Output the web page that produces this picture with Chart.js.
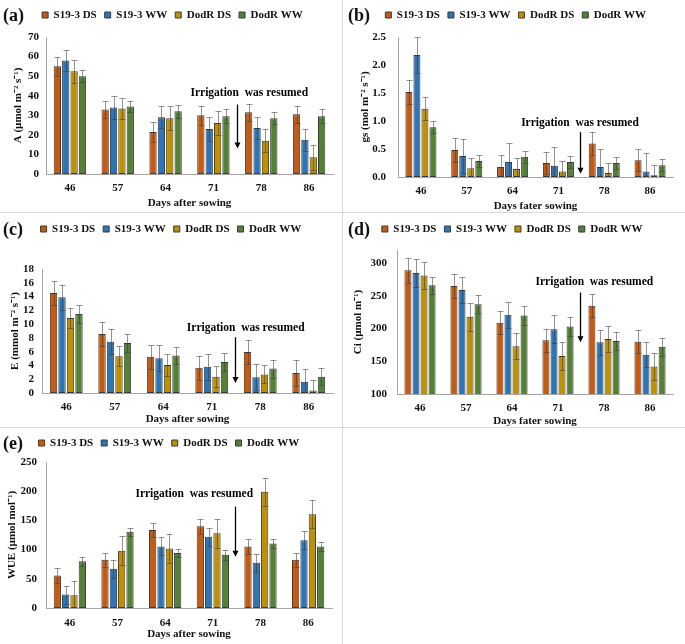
<!DOCTYPE html>
<html>
<head>
<meta charset="utf-8">
<script src="https://cdn.jsdelivr.net/npm/chart.js@4.4.1/dist/chart.umd.min.js"></script>
<style>
  html, body { margin: 0; padding: 0; background: #fff; }
  #page { position: relative; width: 685px; height: 644px; overflow: hidden; background: #fff; }
  .panel { position: absolute; }
  .panel canvas { display: block; }
  .tag { position: absolute; font: bold 18px 'Liberation Serif', 'Times New Roman', serif; line-height: 20px; color: #111; }
  .hline, .vline { position: absolute; background: #d9d9d9; }
</style>
</head>
<body>
<div id="page">
  <div class="hline" style="left:0;top:212px;width:685px;height:1px"></div>
  <div class="hline" style="left:0;top:427px;width:685px;height:1px"></div>
  <div class="vline" style="left:342px;top:0;width:1px;height:644px"></div>

  <div class="panel" style="left:0;top:0"><canvas id="chartA" width="342" height="212"></canvas></div>
  <div class="panel" style="left:343px;top:0"><canvas id="chartB" width="342" height="212"></canvas></div>
  <div class="panel" style="left:0;top:213px"><canvas id="chartC" width="342" height="214"></canvas></div>
  <div class="panel" style="left:343px;top:213px"><canvas id="chartD" width="342" height="214"></canvas></div>
  <div class="panel" style="left:0;top:428px"><canvas id="chartE" width="342" height="216"></canvas></div>

  <div class="tag" style="left:3px;top:5px">(a)</div>
  <div class="tag" style="left:348px;top:5px">(b)</div>
  <div class="tag" style="left:3px;top:219px">(c)</div>
  <div class="tag" style="left:348px;top:219px">(d)</div>
  <div class="tag" style="left:3px;top:433px">(e)</div>
</div>
<script>
const days = ['46', '57', '64', '71', '78', '86'];
const seriesNames = ['S19-3 DS', 'S19-3 WW', 'DodR DS', 'DodR WW'];
const seriesColors = ['#C55A11', '#2E75B6', '#BF9000', '#548235'];

// (a) A, µmol m-2 s-1
const A_S19DS = [55, 33, 21.5, 30, 31.5, 30.5];
const A_S19WW = [58, 34, 29, 23, 23.5, 17.5];
const A_DodDS = [52.5, 33.5, 28.5, 26, 17, 8.5];
const A_DodWW = [50, 34.5, 32, 29.5, 28.5, 29.5];
const A_S19DS_err = [5, 4.5, 5, 5, 4.5, 4.5];
const A_S19WW_err = [5.5, 6, 5.5, 6, 5.5, 5.5];
const A_DodDS_err = [6, 5.5, 6, 6, 6, 6.5];
const A_DodWW_err = [3, 3, 3.5, 3.5, 3, 3.5];

// (b) gs, mol m-2 s-1
const GS_S19DS = [1.52, 0.48, 0.18, 0.25, 0.6, 0.3];
const GS_S19WW = [2.18, 0.375, 0.27, 0.2, 0.18, 0.1];
const GS_DodDS = [1.22, 0.155, 0.145, 0.1, 0.07, 0.03];
const GS_DodWW = [0.89, 0.285, 0.36, 0.27, 0.25, 0.21];
const GS_S19DS_err = [0.22, 0.22, 0.22, 0.2, 0.2, 0.2];
const GS_S19WW_err = [0.32, 0.31, 0.33, 0.33, 0.32, 0.33];
const GS_DodDS_err = [0.2, 0.19, 0.2, 0.19, 0.18, 0.18];
const GS_DodWW_err = [0.11, 0.11, 0.11, 0.11, 0.11, 0.11];

// (c) E, mmol m-2 s-1
const E_S19DS = [14.5, 8.55, 5.25, 3.65, 5.95, 2.9];
const E_S19WW = [13.9, 7.45, 5.05, 3.8, 2.3, 1.65];
const E_DodDS = [10.9, 5.35, 4.05, 2.35, 2.7, 0.35];
const E_DodWW = [11.45, 7.25, 5.45, 4.5, 3.55, 2.35];
const E_S19DS_err = [1.75, 1.7, 1.7, 1.7, 1.7, 1.85];
const E_S19WW_err = [1.85, 1.8, 1.9, 1.9, 1.85, 1.8];
const E_DodDS_err = [1.4, 1.5, 1.55, 1.5, 1.3, 1.5];
const E_DodWW_err = [1.3, 1.35, 1.3, 1.3, 1.3, 1.25];

// (d) Ci, µmol m-1
const CI_S19DS = [289, 265, 209, 182, 235, 180];
const CI_S19WW = [285, 259, 221, 199, 179, 160];
const CI_DodDS = [281, 218, 173, 158, 184, 142];
const CI_DodWW = [266, 237, 220, 203, 181, 172];
const CI_S19DS_err = [19, 18, 18, 18, 18, 18];
const CI_S19WW_err = [21, 20, 20, 21, 19, 19];
const CI_DodDS_err = [20, 21, 20, 21, 20, 21];
const CI_DodWW_err = [13.5, 13.5, 14.5, 14, 14, 14];

// (e) WUE, µmol mol-1
const WUE_S19DS = [55.5, 82.5, 133.5, 140, 105.5, 82.5];
const WUE_S19WW = [23, 67, 105.5, 122, 77.5, 116];
const WUE_DodDS = [22, 98, 102, 128, 199, 160.5];
const WUE_DodWW = [80, 130.5, 94, 91, 110.5, 105.5];
const WUE_S19DS_err = [13, 12.5, 12.5, 13, 13, 12.5];
const WUE_S19WW_err = [15.5, 15.5, 15.5, 15.5, 15.5, 15.5];
const WUE_DodDS_err = [25, 25, 25, 25, 24, 24];
const WUE_DodWW_err = [7.5, 7, 7.5, 8, 7.5, 7.5];

const noteText = 'Irrigation  was resumed';
const FONT = "'Liberation Serif', 'Times New Roman', serif";

// error bars, drawn from each dataset's errors through the y scale
const errorBars = {
  id: 'errorBars',
  afterDatasetsDraw(chart) {
    const ctx = chart.ctx;
    const y = chart.scales.y;
    const area = chart.chartArea;
    ctx.save();
    ctx.beginPath();
    ctx.rect(area.left, area.top - 1, area.right - area.left, area.bottom - area.top + 1);
    ctx.clip();
    ctx.strokeStyle = 'rgba(60, 60, 60, 0.55)';
    ctx.lineWidth = 1;
    chart.data.datasets.forEach((ds, i) => {
      chart.getDatasetMeta(i).data.forEach((bar, j) => {
        const v = ds.data[j], e = ds.errors[j];
        const x = Math.round(bar.x) + 0.5;
        const yt = Math.round(y.getPixelForValue(v + e)) + 0.5;
        const yb = Math.round(y.getPixelForValue(v - e)) + 0.5;
        ctx.beginPath();
        ctx.moveTo(x, yt); ctx.lineTo(x, yb);
        ctx.moveTo(x - 3, yt); ctx.lineTo(x + 3, yt);
        ctx.moveTo(x - 3, yb); ctx.lineTo(x + 3, yb);
        ctx.stroke();
      });
    });
    ctx.restore();
  }
};

// "Irrigation was resumed" label with its arrow
const irrigationNote = {
  id: 'irrigationNote',
  afterDraw(chart, args, opts) {
    const ctx = chart.ctx;
    const xs = chart.scales.x, ys = chart.scales.y;
    const ax = Math.round(xs.getPixelForValue(opts.arrowX)) + 0.5;
    const y1 = ys.getPixelForValue(opts.arrowFrom);
    const y2 = ys.getPixelForValue(opts.arrowTo);
    ctx.save();
    ctx.fillStyle = '#000';
    ctx.font = 'bold 11.5px ' + FONT;
    ctx.textAlign = 'center';
    ctx.textBaseline = 'middle';
    ctx.fillText(noteText, xs.getPixelForValue(opts.textX), ys.getPixelForValue(opts.textY));
    ctx.strokeStyle = '#000';
    ctx.lineWidth = 1.3;
    ctx.beginPath();
    ctx.moveTo(ax, y1); ctx.lineTo(ax, y2 - 5);
    ctx.stroke();
    ctx.beginPath();
    ctx.moveTo(ax - 3, y2 - 6); ctx.lineTo(ax + 3, y2 - 6); ctx.lineTo(ax, y2);
    ctx.closePath();
    ctx.fill();
    ctx.restore();
  }
};

function makeChart(id, L, values, errors, yAxis, yTitle, xTitle, note) {
  const labelPad = 8;
  const padTop = L.legendY - labelPad - 5.5;
  const padLeft = L.yTitleX - 6.6;
  const spacer = L.top - padTop - 29;
  return new Chart(document.getElementById(id), {
    type: 'bar',
    data: {
      labels: days,
      datasets: seriesNames.map((name, i) => ({
        label: name,
        data: values[i],
        errors: errors[i],
        backgroundColor: seriesColors[i],
        borderColor: '#3a3a3a',
        borderWidth: 1,
        borderSkipped: false,
        categoryPercentage: 0.7,
        barPercentage: 0.87
      }))
    },
    options: {
      responsive: false,
      animation: false,
      events: [],
      layout: { padding: { left: padLeft, right: L.w - L.right, top: padTop, bottom: 0 } },
      plugins: {
        legend: {
          position: 'top',
          labels: {
            boxWidth: 6, boxHeight: 6, padding: labelPad, color: '#111',
            font: { family: FONT, size: 11, weight: 'bold' }
          }
        },
        subtitle: {
          display: true, text: '', weight: 500,
          font: { size: 1, lineHeight: 1 },
          padding: { top: spacer - 1, bottom: 0 }
        },
        tooltip: { enabled: false },
        irrigationNote: note
      },
      scales: {
        x: {
          grid: { display: false, drawTicks: false },
          border: { display: true, color: '#a6a6a6', width: 1 },
          ticks: { color: '#111', padding: L.bottomLabel - 6.6, font: { family: FONT, size: 11, weight: 'bold' } },
          title: {
            display: true, text: xTitle, color: '#111',
            font: { family: FONT, size: 11, weight: 'bold', lineHeight: 1 },
            padding: { top: 0, bottom: L.h - L.xTitleY - 5.5 }
          },
          afterFit: s => { s.height = L.h - L.bottom; }
        },
        y: Object.assign({
          grid: { display: false, drawTicks: false },
          border: { display: true, color: '#a6a6a6', width: 1 },
          title: {
            display: true, text: yTitle, color: '#111',
            font: { family: FONT, size: 11, weight: 'bold' },
            padding: { top: 0, bottom: 0 }
          },
          afterFit: s => { s.width = L.left - padLeft; }
        }, yAxis)
      }
    },
    plugins: [errorBars, irrigationNote]
  });
}

const tickFont = { family: FONT, size: 11, weight: 'bold' };

makeChart('chartA',
  { w: 342, h: 212, left: 46, right: 333, top: 37, bottom: 174, legendY: 15, yTitleX: 18.5, xTitleY: 203, bottomLabel: 14 },
  [A_S19DS, A_S19WW, A_DodDS, A_DodWW],
  [A_S19DS_err, A_S19WW_err, A_DodDS_err, A_DodWW_err],
  { min: 0, max: 70, ticks: { stepSize: 10, autoSkip: false, padding: 7, color: '#111', font: tickFont } },
  'A (µmol m⁻² s⁻¹)', 'Days after sowing',
  { arrowX: 3.5, arrowFrom: 35.5, arrowTo: 13, textX: 3.75, textY: 41.5 });

makeChart('chartB',
  { w: 342, h: 212, left: 55, right: 330, top: 37, bottom: 177, legendY: 15, yTitleX: 22, xTitleY: 206, bottomLabel: 14 },
  [GS_S19DS, GS_S19WW, GS_DodDS, GS_DodWW],
  [GS_S19DS_err, GS_S19WW_err, GS_DodDS_err, GS_DodWW_err],
  { min: 0, max: 2.5, ticks: { stepSize: 0.5, autoSkip: false, padding: 12, color: '#111', font: tickFont, callback: v => v.toFixed(1) } },
  'gs (mol m⁻² s⁻¹)', 'Days fater sowing',
  { arrowX: 3.47, arrowFrom: 0.8, arrowTo: 0.06, textX: 3.47, textY: 0.97 });

makeChart('chartC',
  { w: 342, h: 214, left: 42, right: 333, top: 56, bottom: 180, legendY: 16, yTitleX: 15.5, xTitleY: 206, bottomLabel: 14 },
  [E_S19DS, E_S19WW, E_DodDS, E_DodWW],
  [E_S19DS_err, E_S19WW_err, E_DodDS_err, E_DodWW_err],
  { min: 0, max: 18, ticks: { stepSize: 2, autoSkip: false, padding: 8, color: '#111', font: tickFont } },
  'E (mmol m⁻² s⁻¹)', 'Days after sowing',
  { arrowX: 3.48, arrowFrom: 8.1, arrowTo: 1.45, textX: 3.7, textY: 9.4 });

makeChart('chartD',
  { w: 342, h: 214, left: 54, right: 330, top: 37, bottom: 181, legendY: 16, yTitleX: 15, xTitleY: 208, bottomLabel: 14 },
  [CI_S19DS, CI_S19WW, CI_DodDS, CI_DodWW],
  [CI_S19DS_err, CI_S19WW_err, CI_DodDS_err, CI_DodWW_err],
  { min: 100, max: 320, ticks: { stepSize: 50, autoSkip: false, padding: 10, color: '#111', font: tickFont, callback: v => (v % 50 === 0 ? v : '') } },
  'Ci (µmol m⁻¹)', 'Days fater sowing',
  { arrowX: 3.48, arrowFrom: 255, arrowTo: 179, textX: 3.79, textY: 271.7 });

makeChart('chartE',
  { w: 342, h: 216, left: 46, right: 332, top: 34, bottom: 180, legendY: 15, yTitleX: 12.5, xTitleY: 206, bottomLabel: 15 },
  [WUE_S19DS, WUE_S19WW, WUE_DodDS, WUE_DodWW],
  [WUE_S19DS_err, WUE_S19WW_err, WUE_DodDS_err, WUE_DodWW_err],
  { min: 0, max: 250, ticks: { stepSize: 50, autoSkip: false, padding: 9, color: '#111', font: tickFont } },
  'WUE (µmol mol⁻¹)', 'Days after sowing',
  { arrowX: 3.46, arrowFrom: 173.7, arrowTo: 87.7, textX: 2.61, textY: 195 });
</script>
</body>
</html>
